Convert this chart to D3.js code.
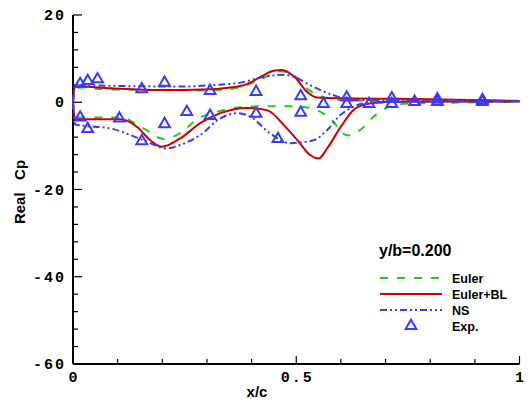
<!DOCTYPE html>
<html>
<head>
<meta charset="utf-8">
<script src="https://cdn.jsdelivr.net/npm/d3@7"></script>
<style>
  html, body { margin: 0; padding: 0; background: #fff; }
  svg { display: block; }
</style>
</head>
<body>
<svg id="chart" width="531" height="402"></svg>
<script>
// Pressure coefficient (real part) along the chord, section y/b = 0.200

// Euler solution: upper and lower surfaces [x/c, Cp]
const eulerUpper = [[0,0],[0.004,3.2],[0.02,3.4],[0.05,3.1],[0.1,2.9],[0.2,2.8],[0.3,2.7],[0.352,3.0],[0.404,4.5],[0.44,6.2],[0.464,7.1],[0.494,6.2],[0.527,2.9],[0.56,1.2],[0.6,0.5],[0.7,0.3],[0.85,0.3],[1,0.2]];
const eulerLower = [[0,0],[0.004,-3.3],[0.02,-3.5],[0.106,-3.5],[0.158,-6.0],[0.203,-8.4],[0.24,-7.1],[0.278,-3.9],[0.33,-2.0],[0.39,-1.0],[0.464,-0.9],[0.51,-1.0],[0.546,-1.8],[0.576,-3.7],[0.614,-7.6],[0.643,-6.4],[0.673,-3.3],[0.71,-1.0],[0.75,-0.3],[0.85,-0.1],[1,0.1]];

// Euler + boundary layer
const eulerBLUpper = [[0,0],[0.004,3.4],[0.01,3.6],[0.084,3.2],[0.195,2.8],[0.307,3.0],[0.382,3.9],[0.42,5.8],[0.449,7.2],[0.468,7.4],[0.498,5.6],[0.524,2.4],[0.546,1.1],[0.613,0.9],[0.8,0.7],[1,0.3]];
const eulerBLLower = [[0,0],[0.004,-3.7],[0.01,-3.9],[0.106,-3.9],[0.143,-5.6],[0.173,-8.7],[0.199,-10.2],[0.24,-8.3],[0.285,-4.8],[0.33,-2.5],[0.39,-1.3],[0.434,-1.8],[0.479,-6.0],[0.505,-9.0],[0.531,-12.1],[0.55,-12.9],[0.569,-10.6],[0.6,-5.6],[0.628,-1.8],[0.658,-0.4],[0.71,0.1],[1,0.2]];

// Navier-Stokes
const nsUpper = [[0,0],[0.004,3.7],[0.01,3.9],[0.121,3.7],[0.25,3.6],[0.307,3.9],[0.375,4.5],[0.427,5.8],[0.472,6.3],[0.501,5.6],[0.524,4.3],[0.584,1.6],[0.628,0.5],[0.8,0.5],[1,0.3]];
const nsLower = [[0,0],[0.004,-5.0],[0.01,-5.2],[0.084,-6.0],[0.158,-8.7],[0.21,-10.6],[0.24,-9.8],[0.285,-7.5],[0.33,-3.7],[0.37,-2.5],[0.397,-3.3],[0.441,-7.1],[0.486,-9.4],[0.509,-9.2],[0.539,-8.7],[0.569,-6.4],[0.595,-3.3],[0.621,-1.4],[0.651,-0.3],[0.75,0.1],[1,0.2]];

// Experiment
const expX = [0.016,0.033,0.055,0.154,0.205,0.307,0.41,0.51,0.613,0.714,0.816,0.917,
              0.016,0.033,0.104,0.154,0.205,0.255,0.307,0.41,0.459,0.51,0.561,0.613,0.663,0.714,0.765,0.816,0.917];
const expCp = [4.2,4.9,5.3,3.0,4.5,2.6,2.4,1.4,1.1,0.9,0.7,0.5,
               -3.5,-6.1,-3.7,-8.9,-5.0,-2.2,-3.1,-2.6,-8.4,-2.4,-0.4,-0.4,-0.4,-0.4,0.1,0.1,0.1];

const xTicks = [0, 0.5, 1];
const xTickLabels = ["0", "0.5", "1"];
const yTicks = [20, 0, -20, -40, -60];
const yTickLabels = ["20", "0", "-20", "-40", "-60"];

const legendLabels = ["Euler", "Euler+BL", "NS", "Exp."];
const sectionLabel = "y/b=0.200";

const svg = d3.select("#chart");
const x = d3.scaleLinear().domain([0, 1]).range([73, 519.5]);
const y = d3.scaleLinear().domain([-60, 20]).range([364, 15]);

const green = "#1fcc1f", red = "#cc0000", blue = "#3a3aff";

// Axes: ticks point inward
const tickFont = "'Liberation Mono', 'DejaVu Sans Mono', monospace";
const axisG = svg.append("g").attr("stroke", "#000").attr("fill", "none");
axisG.append("line").attr("x1", x(0)).attr("x2", x(0)).attr("y1", y(20)).attr("y2", y(-60)).attr("stroke-width", 2);
axisG.append("line").attr("x1", x(0)).attr("x2", x(1)).attr("y1", y(-60)).attr("y2", y(-60)).attr("stroke-width", 2);

d3.range(-60, 20.001, 4).forEach(v => {
  const major = Math.abs(v % 20) < 1e-6;
  axisG.append("line").attr("x1", x(0)).attr("x2", x(0) + (major ? 9 : 5))
    .attr("y1", y(v)).attr("y2", y(v)).attr("stroke-width", 1.2);
});
d3.range(0, 1.0001, 0.1).forEach(v => {
  const major = Math.abs(v * 2 - Math.round(v * 2)) < 1e-6;
  axisG.append("line").attr("x1", x(v)).attr("x2", x(v))
    .attr("y1", y(-60)).attr("y2", y(-60) - (major ? 8 : 5)).attr("stroke-width", 1.2);
});

svg.append("g").selectAll("text").data(yTicks).join("text")
  .attr("x", 66).attr("y", d => y(d) + 5)
  .attr("text-anchor", "end")
  .attr("font-family", tickFont).attr("font-weight", "bold").attr("font-size", 15)
  .attr("letter-spacing", 2)
  .text((d, i) => yTickLabels[i]);

svg.append("g").selectAll("text").data(xTicks).join("text")
  .attr("x", d => x(d) + 1).attr("y", 382)
  .attr("text-anchor", "middle")
  .attr("font-family", tickFont).attr("font-weight", "bold").attr("font-size", 15)
  .attr("letter-spacing", 2)
  .text((d, i) => xTickLabels[i]);

// Axis titles
svg.append("text").attr("x", 257).attr("y", 397).attr("text-anchor", "middle")
  .attr("font-family", "'Liberation Sans', Arial, sans-serif").attr("font-weight", "bold").attr("font-size", 15)
  .text("x/c");
svg.append("text").attr("transform", "translate(25,192) rotate(-90)").attr("text-anchor", "middle")
  .attr("font-family", "'Liberation Sans', Arial, sans-serif").attr("font-weight", "bold").attr("font-size", 15)
  .attr("xml:space", "preserve")
  .text("Real   Cp");

// Curves
const line = d3.line().x(d => x(d[0])).y(d => y(d[1])).curve(d3.curveMonotoneX);
const series = [
  { parts: [eulerUpper, eulerLower], color: green, dash: "8,9", width: 2 },
  { parts: [eulerBLUpper, eulerBLLower], color: red, dash: null, width: 2 },
  { parts: [nsUpper, nsLower], color: blue, dash: "7,3,2,3,2,3", width: 2 }
];
const curveG = svg.append("g").attr("fill", "none");
series.forEach(s => {
  s.parts.forEach(p => {
    curveG.append("path").attr("d", line(p))
      .attr("stroke", s.color).attr("stroke-width", s.width)
      .attr("stroke-dasharray", s.dash);
  });
});

// Experimental points
const tri = d3.symbol().type(d3.symbolTriangle).size(50);
svg.append("g").selectAll("path").data(expX).join("path")
  .attr("d", tri)
  .attr("transform", (d, i) => `translate(${x(d)},${y(expCp[i])})`)
  .attr("fill", "none").attr("stroke", blue).attr("stroke-width", 2);

// Legend
const lg = svg.append("g").attr("font-family", "'Liberation Sans', Arial, sans-serif").attr("font-weight", "bold");
lg.append("text").attr("x", 379).attr("y", 256).attr("font-size", 16).text(sectionLabel);
const rowsY = [278, 294, 310];
series.forEach((s, i) => {
  lg.append("line").attr("x1", 380).attr("x2", 442).attr("y1", rowsY[i]).attr("y2", rowsY[i])
    .attr("stroke", s.color).attr("stroke-width", s.width).attr("stroke-dasharray", s.dash);
});
lg.append("path").attr("d", tri).attr("transform", "translate(411,326)")
  .attr("fill", "none").attr("stroke", blue).attr("stroke-width", 2);
[278, 294, 310, 326].forEach((yy, i) => {
  lg.append("text").attr("x", 452).attr("y", yy + 4.5).attr("font-size", 12.5).text(legendLabels[i]);
});
</script>
</body>
</html>
